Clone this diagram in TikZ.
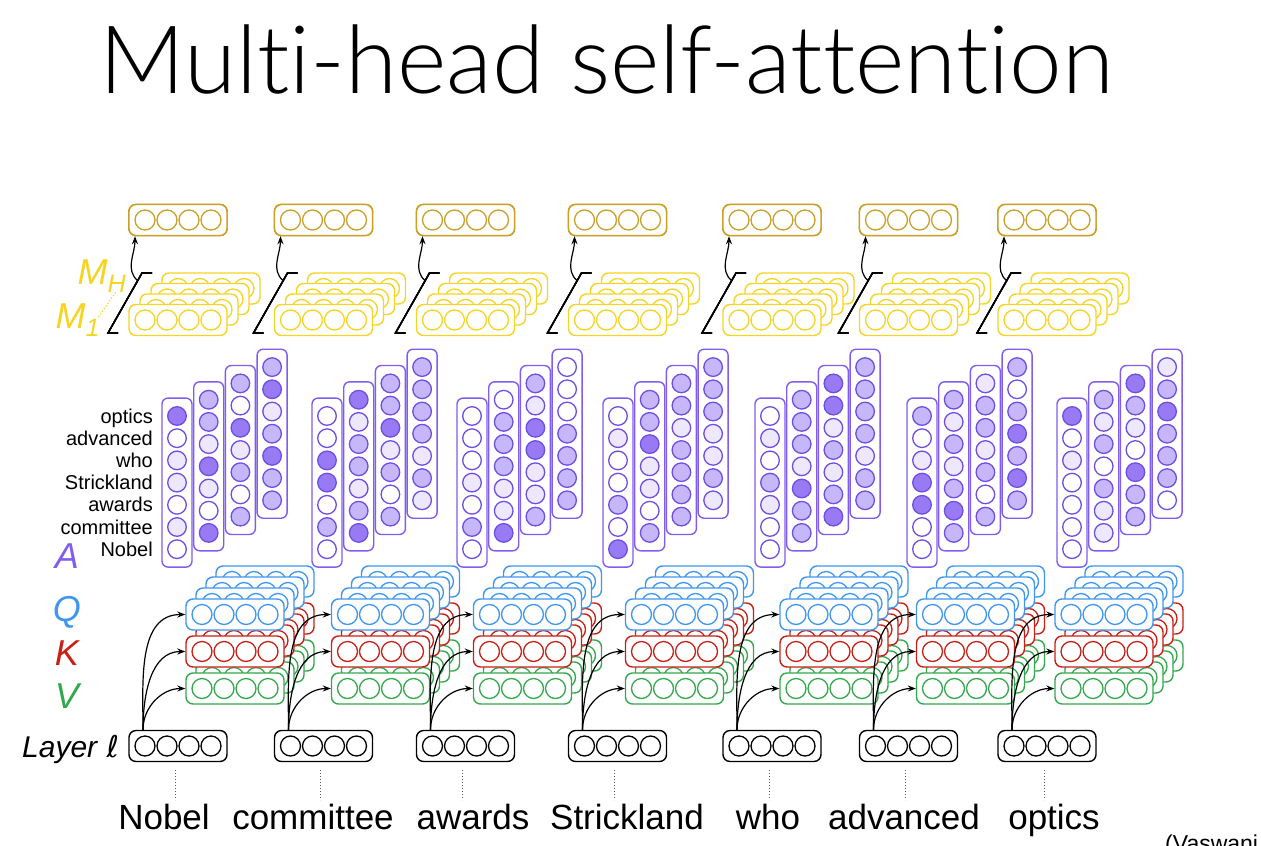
\documentclass[tikz,border=0pt]{standalone}
\usepackage{fontspec}
\setmainfont{Liberation Sans}
\newfontfamily\titlefont{Lato Light}[Ligatures=NoCommon]
\newfontfamily\symfont{DejaVu Sans}
\usetikzlibrary{arrows.meta,calc}

\definecolor{qblue}{RGB}{62,150,240}
\definecolor{kred}{RGB}{200,32,22}
\definecolor{vgreen}{RGB}{52,168,76}
\definecolor{myellow}{RGB}{245,212,35}
\definecolor{ogold}{RGB}{202,160,40}
\definecolor{apurple}{RGB}{128,92,240}
\definecolor{aring}{RGB}{112,78,226}
\definecolor{att0}{RGB}{255,255,255}
\definecolor{att1}{RGB}{237,232,253}
\definecolor{att2}{RGB}{197,183,250}
\definecolor{att3}{RGB}{152,122,245}

\begin{document}
\begin{tikzpicture}[x=1pt,y=-1pt,
  every node/.style={inner sep=0pt},
  vecbox/.style={draw, fill=white, rounded corners=7pt, line width=1.4pt,
    minimum width=98pt, minimum height=31pt},
  unit/.style={fill=white, line width=1.3pt},
  feed/.style={-{Stealth[length=8pt,width=6pt]}, line width=1.2pt},
  bracket/.style={line width=1.4pt},
  tie/.style={dotted, line width=1pt, gray!70!black},
  attbox/.style={draw=apurple, fill=white, rounded corners=6pt, line width=1.4pt,
    minimum width=30pt, minimum height=169pt},
  attunit/.style={draw=aring, line width=1.3pt},
  rowlabel/.style={font=\fontsize{20}{20}\selectfont, anchor=base east},
  wordlabel/.style={font=\fontsize{35}{35}\selectfont, anchor=base},
  letter/.style={font=\fontsize{36}{36}\selectfont\itshape}]
\useasboundingbox (0,0) rectangle (1261,846);
\clip (0,0) rectangle (1261,846);

% Title
\node[anchor=base west, font=\titlefont\fontsize{94.5}{94.5}\selectfont] (title) at (99,93) {Multi-head self-attention};

% Macro for one vector of four units
\newcommand{\vecnode}[4]{
    \node[vecbox, draw=#4] (#1) at (#2,#3) {};
    \foreach \ux in {-33,-11,11,33}
        \draw[unit, draw=#4] ([xshift=\ux pt]#1.center) circle (10pt);
}

% Macro for one attention column
\newcommand{\attcol}[4]{
    \node[attbox] (#1) at (#2,#3+66.6) {};
    \foreach \lev [count=\r from 0] in {#4}
        \draw[attunit, fill=att\lev] (#2,#3+22.2*\r) circle (9.3pt);
}

% Macro for the four columns of one word
\newcommand{\attgroup}[6]{
    \attcol{a#1c1}{#2}{416}{#3}
    \attcol{a#1c2}{#2+31.7}{399.7}{#4}
    \attcol{a#1c3}{#2+63.4}{383.4}{#5}
    \attcol{a#1c4}{#2+95.1}{367.1}{#6}
}

% Macro for one word: input, Q/K/V heads, head outputs, output
\newcommand{\tokencolumn}[4]{
    % Heads M_1 ... M_H and output
    \foreach \h in {3,2,1,0}
        \vecnode{m#1h\h}{#2+11*\h}{320-10.5*\h}{myellow}
    \vecnode{out#1}{#2}{220}{ogold}
    \draw[bracket] (#2-60,333) -- (#2-70,333) -- (#2-36,273) -- (#2-26,273);
    \coordinate (b#1) at (#2-40,281);
    \draw[feed] (b#1) to[out=140,in=-90] ([xshift=-43pt]out#1.south);

    % Q, K, V for every head
    \foreach \h in {3,2,1,0}{
        \vecnode{v#1h\h}{#2+57+10*\h}{688.5-11*\h}{vgreen}
        \vecnode{k#1h\h}{#2+57+10*\h}{651.5-11*\h}{kred}
        \vecnode{q#1h\h}{#2+57+10*\h}{614.5-11*\h}{qblue}
    }

    % Layer input and word
    \vecnode{in#1}{#2}{746}{black}
    \coordinate (s#1) at ([xshift=-35pt]in#1.north);
    \draw[feed] (s#1) to[out=90,in=180] (q#1h0.west);
    \draw[feed] (s#1) to[out=90,in=180] (k#1h0.west);
    \draw[feed] (s#1) to[out=90,in=180] (v#1h0.west);
    \node[wordlabel] (w#1) at (#3,829) {#4};
    \draw[tie] ([xshift=-3pt,yshift=-8pt]in#1.south) -- ([xshift=-3pt,yshift=-38pt]in#1.south);
}

% Attention weights
\attgroup{1}{177}{3,0,1,1,0,1,0}{2,2,1,3,1,0,3}{2,0,3,1,2,0,2}{2,3,1,2,3,2,2}
\attgroup{2}{327}{0,0,3,3,0,2,0}{3,1,2,2,1,2,3}{2,2,3,1,2,0,2}{2,2,2,2,1,2,1}
\attgroup{3}{472}{0,0,0,1,0,2,0}{0,2,2,2,1,1,3}{2,1,3,3,1,1,2}{0,0,0,2,2,2,2}
\attgroup{4}{618}{0,1,0,0,2,0,3}{2,2,3,1,1,0,2}{2,2,1,2,2,2,2}{2,2,2,1,1,2,1}
\attgroup{5}{770}{0,1,0,2,1,0,0}{2,2,2,1,3,2,2}{3,3,1,2,1,2,3}{2,2,2,2,1,2,2}
\attgroup{6}{922}{2,0,1,3,3,0,0}{2,1,2,1,2,3,2}{1,2,2,1,2,0,2}{2,0,2,3,2,3,2}
\attgroup{7}{1072}{3,0,1,0,0,0,0}{2,1,2,0,2,1,1}{3,2,1,0,3,2,2}{1,2,3,2,2,2,0}

\foreach \w [count=\r from 0] in {optics,advanced,who,Strickland,awards,committee,Nobel}
    \node[rowlabel] (row\r) at (153,423+22.2*\r) {\w};

% Words
\tokencolumn{1}{178}{164}{Nobel}
\tokencolumn{2}{323.5}{313}{committee}
\tokencolumn{3}{465.5}{473}{awards}
\tokencolumn{4}{617.5}{627}{Strickland}
\tokencolumn{5}{772}{768}{who}
\tokencolumn{6}{908.5}{904}{advanced}
\tokencolumn{7}{1047}{1054}{optics}

% Side labels
\node[letter, text=myellow] (mhead) at (102,276) {M\textsubscript{H}};
\node[letter, text=myellow] (mone) at (78,320) {M\textsubscript{1}};
\draw[dotted, line width=1.2pt, myellow] ([xshift=-2pt,yshift=3pt]mone.east) -- ([xshift=-10pt,yshift=2pt]mhead.south east);
\node[letter, text=apurple] (alab) at (67,556) {A};
\node[letter, text=qblue] (qlab) at (67,612) {Q};
\node[letter, text=kred] (klab) at (67,653) {K};
\node[letter, text=vgreen] (vlab) at (67,696) {V};
\node[anchor=base west, font=\fontsize{30}{30}\selectfont] (layer) at (22,757) {\textit{Layer} {\symfont\itshape ℓ}};
\node[anchor=base west, font=\fontsize{23}{23}\selectfont] (cite) at (1165,851) {(Vaswani};

\end{tikzpicture}
\end{document}
